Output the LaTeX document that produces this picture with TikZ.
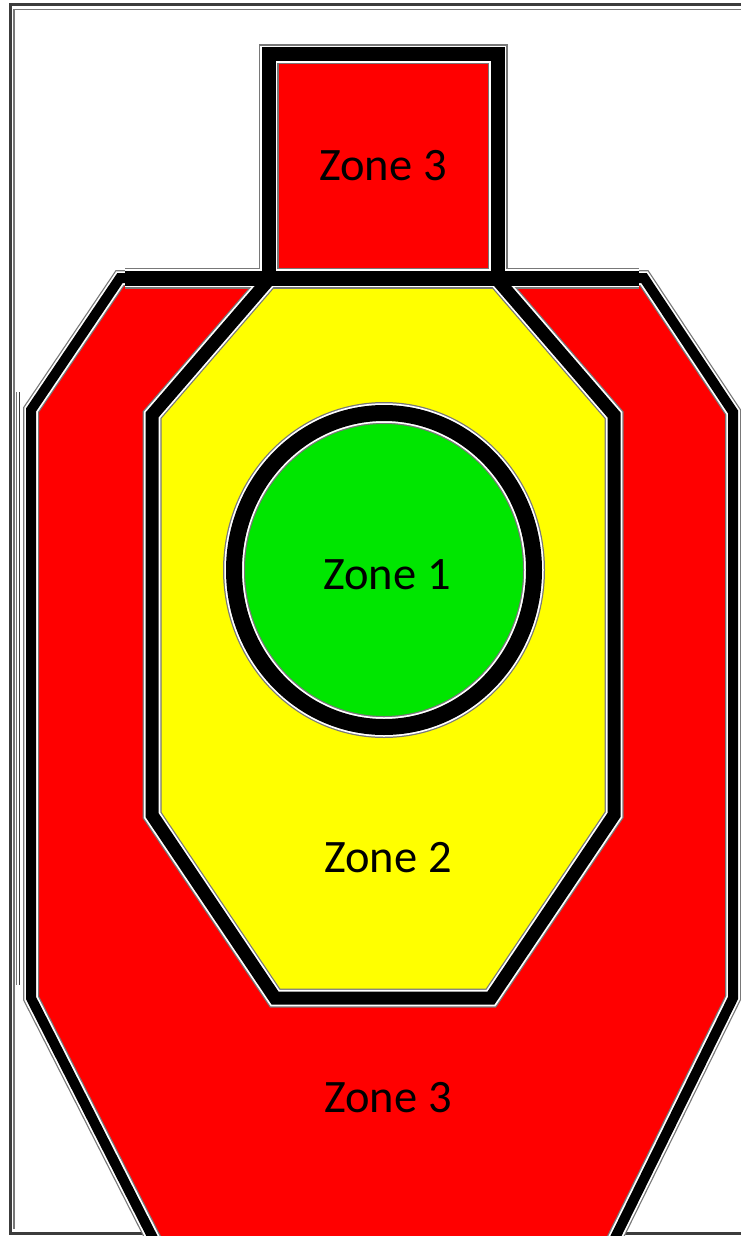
\documentclass[tikz,border=0pt]{standalone}
\usepackage{fontspec}
\setmainfont{Carlito}
\definecolor{zred}{RGB}{255,0,0}
\definecolor{zyellow}{RGB}{255,255,0}
\definecolor{zgreen}{RGB}{0,230,0}
\definecolor{halogray}{RGB}{120,120,120}
\definecolor{framegray}{RGB}{60,60,60}
\tikzset{
  zonetext/.style={font=\fontsize{46.5}{50}\selectfont, text=black, inner sep=0pt},
}
\newcommand\zonelines[2]{%
  \draw[#1, line width=10pt+#2] (bF) -- (bG) -- (bH) -- (bA) -- (bB) -- (bC) -- (bD) -- (bE);
  \draw[#1, line width=15pt+#2, shorten <=5pt, shorten >=5pt] (bA) -- (bB);
  \draw[#1, line width=14pt+#2] (hD) -- (hA) -- (hB) -- (hC);
  \draw[#1, line width=13pt+#2] (yA) -- (yH) -- (yG) -- (yF) -- (yE) -- (yD) -- (yC) -- (yB);
  \draw[#1, line width=16pt+#2] (cc) ellipse [x radius=150, y radius=157];
}
\begin{document}
\begin{tikzpicture}[x=1pt, y=-1pt, line join=miter]
\useasboundingbox (0,0) rectangle (741,1236);
\clip (0,0) rectangle (741,1236);
\fill[white] (0,0) rectangle (741,1236);
% body outline
\coordinate (bA) at (120,278);
\coordinate (bB) at (644,278);
\coordinate (bC) at (733,412);
\coordinate (bD) at (733,998);
\coordinate (bE) at (612,1244);
\coordinate (bF) at (156,1244);
\coordinate (bG) at (31,998);
\coordinate (bH) at (31,410);
% head
\coordinate (hA) at (268.5,54.5);
\coordinate (hB) at (497.5,54.5);
\coordinate (hC) at (497.5,278);
\coordinate (hD) at (268.5,278);
% zone 2 octagon
\coordinate (yA) at (268.5,280);
\coordinate (yB) at (497.5,280);
\coordinate (yC) at (614,415);
\coordinate (yD) at (614,815);
\coordinate (yE) at (491,998);
\coordinate (yF) at (275,998);
\coordinate (yG) at (152,815);
\coordinate (yH) at (152,415);
\coordinate (cc) at (384,570);
% frame
\draw[framegray, line width=3pt] (760,5) -- (10,5) -- (10,1233) -- (760,1233);
\draw[halogray, line width=1.5pt] (760,9.5) -- (14,9.5) -- (14,1229);
\draw[halogray, line width=1.2pt] (16.5,392) -- (16.5,985);
\draw[framegray, line width=1.2pt] (19.5,392) -- (19.5,985);
% fills
\fill[zred] (bA) -- (bB) -- (bC) -- (bD) -- (bE) -- (bF) -- (bG) -- (bH) -- cycle;
\fill[zred] (hA) rectangle (hC);
\fill[zyellow] (yA) -- (yB) -- (yC) -- (yD) -- (yE) -- (yF) -- (yG) -- (yH) -- cycle;
\fill[zgreen] (cc) ellipse [x radius=150, y radius=157];
% outlines with halo
\zonelines{halogray}{6pt}
\zonelines{white}{3.5pt}
\zonelines{black}{0pt}
% labels
\node[zonetext] (z3top) at (383,166) {Zone 3};
\node[zonetext] (z1) at (387,575) {Zone 1};
\node[zonetext] (z2) at (388,858) {Zone 2};
\node[zonetext] (z3bottom) at (388,1098) {Zone 3};
\end{tikzpicture}
\end{document}
